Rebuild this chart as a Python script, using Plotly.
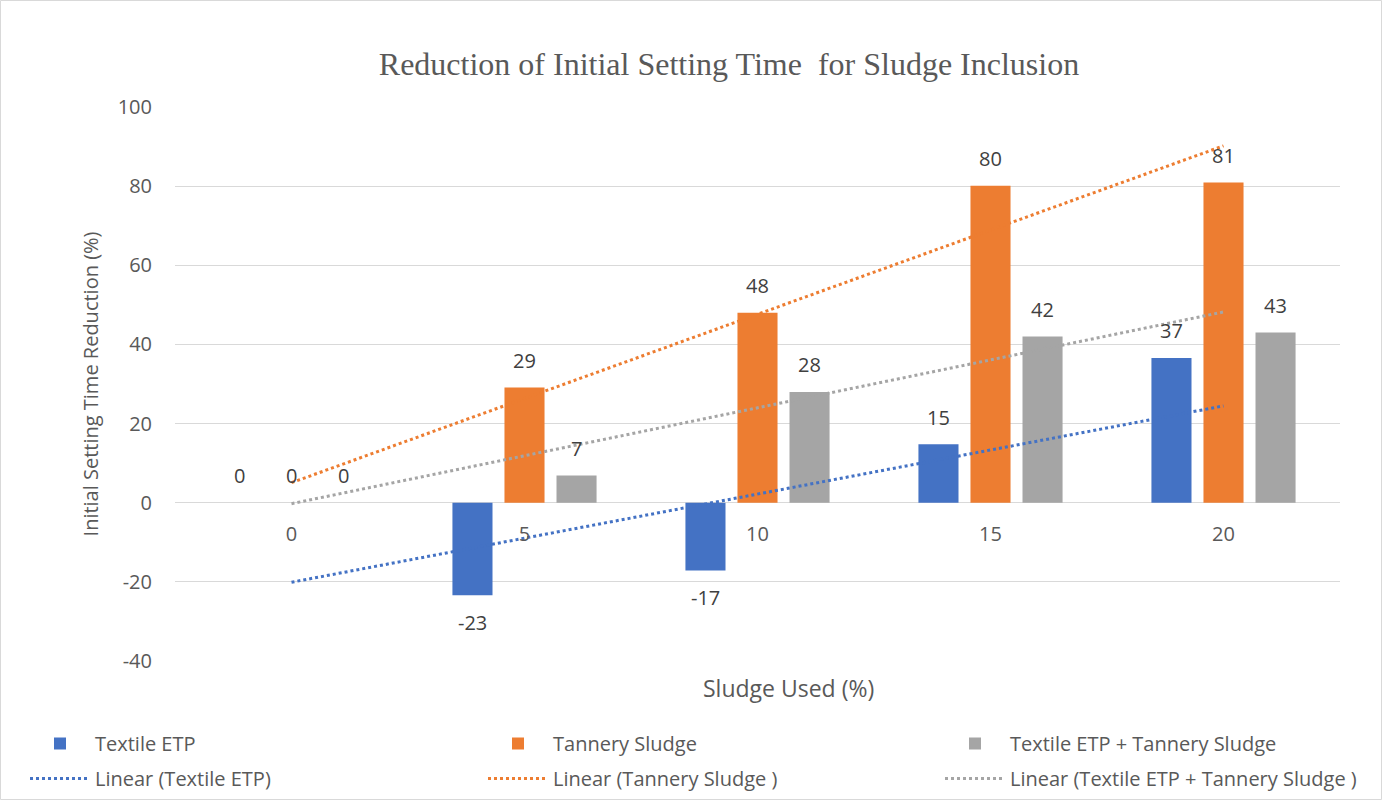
import numpy as np
import plotly.graph_objects as go

categories = ["0", "5", "10", "15", "20"]
textile_etp = [0, -23.4, -17.1, 14.8, 36.6]
tannery_sludge = [0, 29.1, 48.0, 80.1, 80.9]
textile_tannery = [0, 6.9, 28.0, 42.0, 43.0]

series_names = ["Textile ETP", "Tannery Sludge", "Textile ETP + Tannery Sludge"]
trend_names = ["Linear (Textile ETP)", "Linear (Tannery Sludge )", "Linear (Textile ETP + Tannery Sludge )"]
colors = ["#4472C4", "#ED7D31", "#A5A5A5"]
y_ticks = [-40, -20, 0, 20, 40, 60, 80, 100]
y_tick_labels = ["-40", "-20", "0", "20", "40", "60", "80", "100"]

series = [textile_etp, tannery_sludge, textile_tannery]

W, H = 1383, 801
ML, MR, MT, MB = 175, 43, 107, 140
PW = W - ML - MR
PH = H - MT - MB


def px_x(p):
    return (p - ML) / PW


def px_y(p):
    return (MT + PH - p) / PH


legend_ids = ["legend", "legend2", "legend3"]

fig = go.Figure()
for name, vals, col, lg in zip(series_names, series, colors, legend_ids):
    fig.add_trace(go.Bar(x=categories, y=vals, name=name, legend=lg, legendgroup=name + "b",
                         marker=dict(color=col, line=dict(width=0))))

xs = np.arange(1, len(categories) + 1)
for name, vals, col, lg in zip(trend_names, series, colors, legend_ids):
    k, b = np.polyfit(xs, vals, 1)
    fig.add_trace(go.Scatter(x=categories, y=k * xs + b, mode="lines", name=name, legend=lg,
                             legendgroup=name + "l",
                             line=dict(color=col, width=3, dash="dot")))

# data labels
offsets = [-52, 0, 52]
for vals, off in zip(series, offsets):
    for i, v in enumerate(vals):
        fig.add_annotation(x=i, y=v, xref="x", yref="y", text=f"{round(v):d}", showarrow=False,
                           xshift=off, yshift=27 if v >= 0 else -27,
                           font=dict(family="Open Sans", size=20, color="#404040"))

ymin, ymax = -40, 100
zero_pos = (0 - ymin) / (ymax - ymin)

legend_common = dict(orientation="v", xanchor="left", yanchor="top", itemwidth=60,
                     traceorder="grouped", tracegroupgap=6,
                     font=dict(family="Open Sans", size=20, color="#595959"),
                     bgcolor="rgba(0,0,0,0)")

fig.update_layout(
    width=W, height=H,
    margin=dict(l=ML, r=MR, t=MT, b=MB, autoexpand=False),
    paper_bgcolor="white", plot_bgcolor="white",
    barmode="group", bargap=0.33, bargroupgap=0.23,
    font=dict(family="Open Sans", color="#595959", size=20),
    title=dict(text="Reduction of Initial Setting Time  for Sludge Inclusion",
               x=px_x(729), xref="paper", xanchor="center",
               y=1 - 64 / H, yanchor="middle",
               font=dict(family="Liberation Serif", size=32, color="#595959")),
    xaxis=dict(type="category", anchor="free", position=zero_pos, showline=False,
               showgrid=False, ticks="", ticklabelstandoff=17,
               tickfont=dict(size=20, color="#595959")),
    yaxis=dict(range=[ymin, ymax], tickvals=y_ticks, ticktext=y_tick_labels,
               showgrid=True, gridcolor="#D9D9D9",
               gridwidth=1, zeroline=True, zerolinecolor="#D9D9D9", zerolinewidth=1,
               ticks="", ticklabelstandoff=22, showline=False,
               tickfont=dict(size=20, color="#595959"),
               title=dict(text="Initial Setting Time Reduction (%)", standoff=13,
                          font=dict(size=20, color="#595959"))),
    legend=dict(x=px_x(25), y=px_y(724), **legend_common),
    legend2=dict(x=px_x(483), y=px_y(724), **legend_common),
    legend3=dict(x=px_x(940), y=px_y(724), **legend_common),
    showlegend=True,
)

fig.add_annotation(text="Sludge Used (%)", xref="paper", yref="paper",
                   x=px_x(788), y=px_y(688), xanchor="center", yanchor="middle",
                   showarrow=False, font=dict(size=23, color="#595959"))

fig.add_shape(type="rect", xref="paper", yref="paper",
              x0=px_x(0.5), x1=px_x(W - 1.5),
              y0=px_y(H - 1.5), y1=px_y(0.5),
              line=dict(color="#D9D9D9", width=1), fillcolor="rgba(0,0,0,0)", layer="below")

fig.write_html("out.html", config={"displayModeBar": False},
               post_script="document.body.style.margin='0';")
